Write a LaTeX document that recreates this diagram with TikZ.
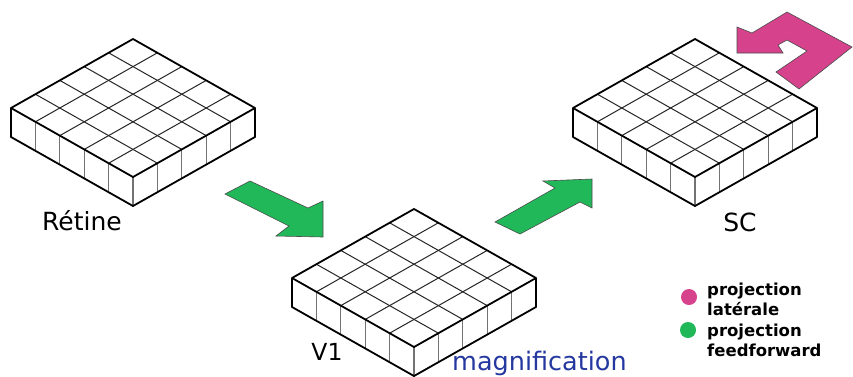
\documentclass[tikz,border=0pt]{standalone}
\usepackage{fontspec}
\setmainfont{DejaVu Sans}
\definecolor{ffgreen}{RGB}{32,184,88}
\definecolor{latpink}{RGB}{214,66,140}
\definecolor{magblue}{RGB}{36,56,160}
\tikzset{
  outer/.style={line width=1.8pt, black, line join=round},
  inner/.style={line width=1pt, black!85},
  vert/.style={line width=1.2pt, black!55},
  blockarrow/.style={draw=black!70, line width=0.6pt, line join=miter},
  biglabel/.style={font=\fontsize{25}{28}\selectfont, inner sep=0pt},
  legendtext/.style={font=\fontsize{16.5}{20}\selectfont\bfseries, inner sep=0pt, anchor=base west},
}
\newcommand{\gridslab}[2]{%
  \begin{scope}[shift={(#1,#2)}]
    \fill[white] (0,0) -- (122,69) -- (122,98) -- (0,167) -- (-122,98) -- (-122,69) -- cycle;
    \foreach \i in {1,...,4} {
      \draw[inner] (24.4*\i,13.8*\i) -- (24.4*\i-122,13.8*\i+69);
      \draw[inner] (-24.4*\i,13.8*\i) -- (-24.4*\i+122,13.8*\i+69);
      \draw[vert] (-122+24.4*\i,69+13.8*\i) -- ++(0,29);
      \draw[vert] (24.4*\i,138-13.8*\i) -- ++(0,29);
    }
    \draw[vert] (0,138) -- (0,167);
    \draw[outer] (0,0) -- (122,69) -- (0,138) -- (-122,69) -- cycle;
    \draw[outer] (-122,69) -- (-122,98) -- (0,167) -- (122,98) -- (122,69);
  \end{scope}}
\begin{document}
\begin{tikzpicture}[x=1pt,y=-1pt]
\useasboundingbox (0,0) rectangle (853,376);
\fill[white] (0,0) rectangle (853,376);
% slabs
\gridslab{133}{39}
\gridslab{414}{209}
\gridslab{695}{39}
% feedforward arrows
\draw[blockarrow, fill=ffgreen] (250,181) -- (308,208) -- (323,201) -- (323,237) -- (276,236) -- (289,226) -- (225,194) -- cycle;
\draw[blockarrow, fill=ffgreen] (520,234) -- (495,222) -- (555,188) -- (543,181) -- (592,179) -- (592,208) -- (580,202) -- cycle;
% lateral arrow
\draw[blockarrow, fill=latpink] (737,27) -- (752,33) -- (787,12) -- (852,47) -- (799,89) -- (776,72) -- (807,51) -- (787,40) -- (778,45) -- (783,53) -- (737,53) -- cycle;
% labels
\node[biglabel] (retine) at (82,221) {Rétine};
\node[biglabel, font=\fontsize{23.5}{26}\selectfont] (v1) at (327,352) {V1};
\node[biglabel] (sc) at (740,222) {SC};
\node[biglabel, font=\fontsize{25.5}{28}\selectfont, anchor=base west, text=magblue] (magn) at (452,370) {magnification};
% legend
\fill[latpink] (689,297) circle (8);
\fill[ffgreen] (688,330) circle (8);
\node[legendtext] (l1) at (707,295) {projection};
\node[legendtext] (l2) at (707,315) {latérale};
\node[legendtext] (l3) at (707,336) {projection};
\node[legendtext] (l4) at (707,356) {feedforward};
\end{tikzpicture}
\end{document}
